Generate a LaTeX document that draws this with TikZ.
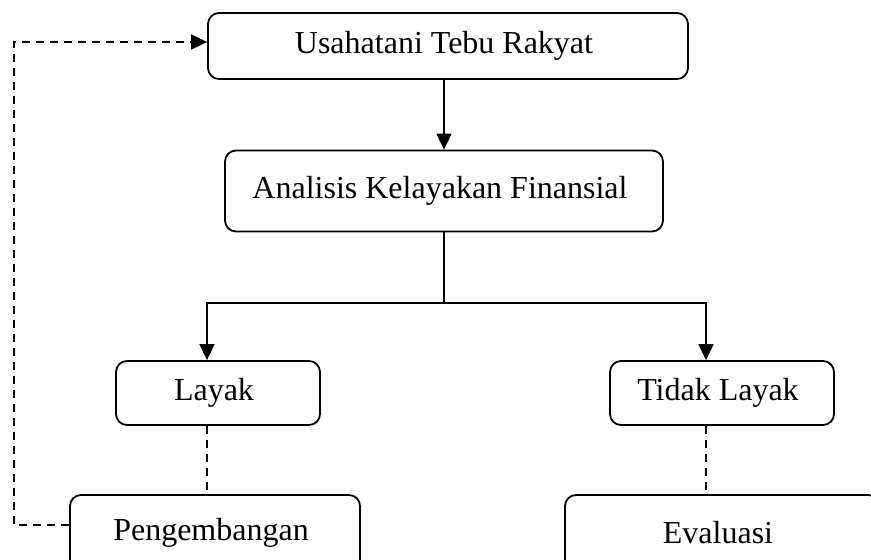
\documentclass[tikz,border=0pt]{standalone}
\usepackage{fontspec}
\setmainfont{Liberation Serif}
\usetikzlibrary{positioning, arrows.meta}

\begin{document}
\begin{tikzpicture}[x = 1pt, y = -1pt,
    kotak/.style = { draw, line width = 1.8pt, rounded corners = 11pt, align = center,
      font = \fontsize{32}{36}\selectfont, inner sep = 0pt },
    ujung/.style = { -{Triangle[length = 16pt, width = 15pt]} },
    panah/.style = { line width = 1.8pt, ujung },
    garis/.style = { line width = 1.8pt },
    putus/.style = { line width = 1.4pt, dash pattern = on 8pt off 6pt }]
    \useasboundingbox (0,0) rectangle (871,560);

    \node [kotak, minimum width = 480pt, minimum height = 66pt] (usaha) at (448,46) { Usahatani Tebu Rakyat };
    \node [kotak, minimum width = 438pt, minimum height = 81pt] (analisis) at (444,191) { Analisis Kelayakan Finansial };
    \node [kotak, minimum width = 204pt, minimum height = 64pt] (layak) at (218,393) { Layak };
    \node [kotak, minimum width = 224pt, minimum height = 64pt] (tidak) at (722,393) { Tidak Layak };
    \node [kotak, minimum width = 290pt, minimum height = 76pt] (kembang) at (215,533) { Pengembangan };
    \node [kotak, minimum width = 314pt, minimum height = 76pt] (evaluasi) at (722,533) { Evaluasi };

    \coordinate (cabang) at (444,303);
    \coordinate (kiri) at (207,303);
    \coordinate (kanan) at (706,303);
    \coordinate (pojok) at (14,42);

    \draw [panah] (usaha.south -| analisis.north) -- (analisis.north);
    \draw [garis] (analisis.south) -- (cabang);
    \draw [panah] (cabang) -- (kiri) -- (kiri |- layak.north);
    \draw [panah] (cabang) -- (kanan) -- (kanan |- tidak.north);

    \draw [putus] (layak.south -| kiri) -- (kembang.north -| kiri);
    \draw [putus] (tidak.south -| kanan) -- (evaluasi.north -| kanan);
    \draw [putus, line width = 1.8pt, ujung]
      (kembang.west |- 0,525) -| (pojok) -- (pojok -| usaha.west);
\end{tikzpicture}
\end{document}
